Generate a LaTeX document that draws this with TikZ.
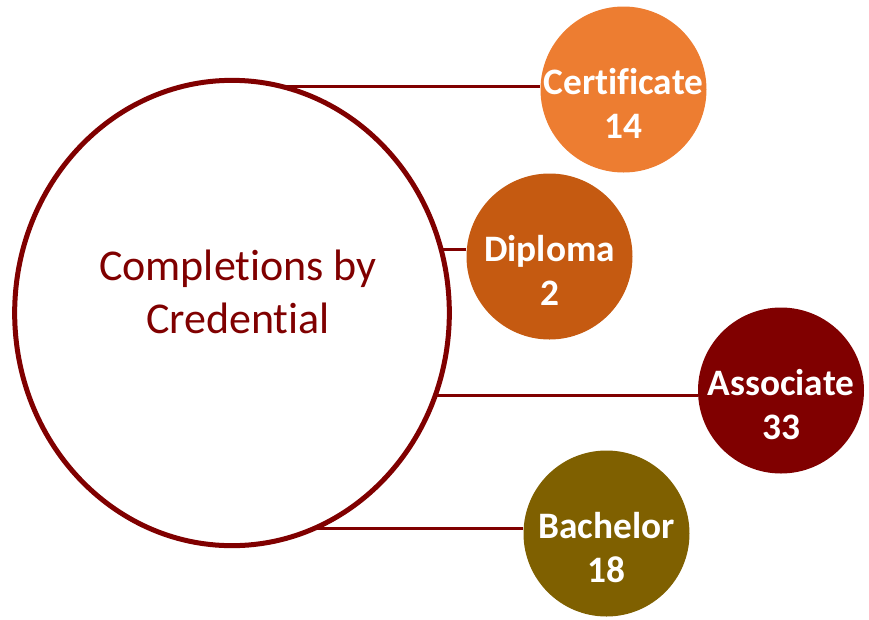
\documentclass[tikz,border=0pt]{standalone}
\usepackage{fontspec}
\setmainfont[Ligatures=NoCommon]{Carlito}
\usetikzlibrary{shapes.geometric,backgrounds}
\definecolor{maroon}{HTML}{800000}
\definecolor{certorange}{HTML}{ED7D31}
\definecolor{diplorange}{HTML}{C55A11}
\definecolor{bachgold}{HTML}{7F6000}
\tikzset{
  bubble/.style={circle, minimum size=124.5pt, inner sep=0pt},
  bubbletext/.style={align=center, text=white, yshift=-10.5pt,
    font=\fontsize{28}{33}\selectfont\bfseries},
  link/.style={draw=maroon, line width=2.25pt}
}

\begin{document}
\begin{tikzpicture}[x=0.75pt, y=-0.75pt]
			%%%%% START %%%%%
			\useasboundingbox (0, 0) rectangle (869, 619);
			
			\node[ellipse, draw=maroon, fill=white, line width=3.75pt, minimum width=326pt, minimum height=349pt] (hub) at (232, 313) {};
			\node[text=maroon, align=center, font=\fontsize{33}{39.5}\selectfont] (hubtext) at (238, 292) {Completions by\\Credential};
			
			\node[bubble, fill=certorange, label={[bubbletext, name=certtext]center:Certificate\\14}] (cert) at (623.5, 89.5) {};
			\node[bubble, fill=diplorange, label={[bubbletext, name=dipltext]center:Diploma\\2}] (dipl) at (549.5, 256.5) {};
			\node[bubble, fill=maroon, label={[bubbletext, name=assoctext]center:Associate\\33}] (assoc) at (781, 390.5) {};
			\node[bubble, fill=bachgold, label={[bubbletext, name=bachtext]center:Bachelor\\18}] (bach) at (606.5, 533.5) {};
			
			\begin{scope}[on background layer]
			\draw[link] ([yshift=1.9pt]cert.west) -- ([yshift=1.9pt]cert.west -| hub.center);
			\draw[link] ([yshift=5.6pt]dipl.west) -- ([yshift=5.6pt]dipl.west -| hub.center);
			\draw[link] ([yshift=-3.4pt]assoc.west) -- ([yshift=-3.4pt]assoc.west -| hub.center);
			\draw[link] ([yshift=3.4pt]bach.west) -- ([yshift=3.4pt]bach.west -| hub.center);
			\end{scope}
			%%%%% END %%%%%
\end{tikzpicture}
\end{document}
